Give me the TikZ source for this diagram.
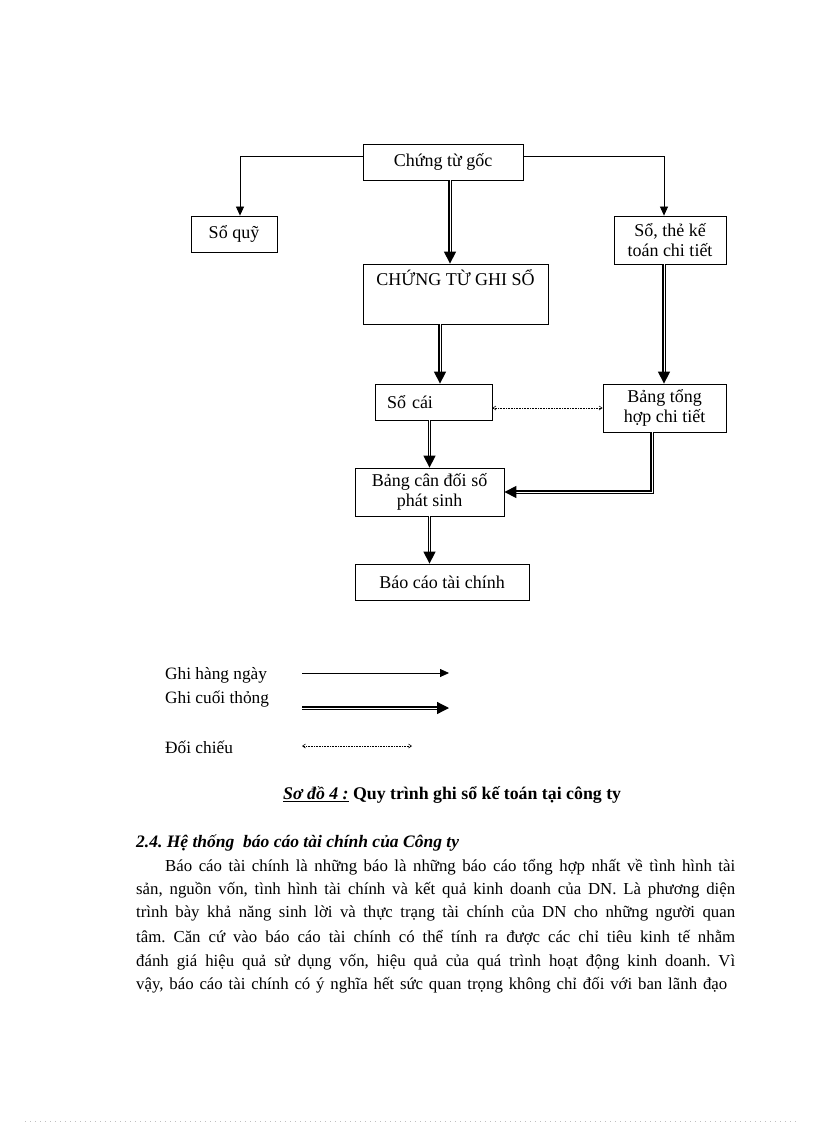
\documentclass[tikz,border=0pt]{standalone}
\usepackage{fontspec}
\setmainfont{Liberation Serif}
\usetikzlibrary{arrows.meta}
\begin{document}
\frenchspacing
\begin{tikzpicture}[x=1pt,y=-1pt,
  box/.style={draw, line width=0.8pt, inner sep=0pt, font=\fontsize{18}{20}\selectfont, align=center},
  thinarr/.style={line width=0.8pt, -{Triangle[length=9pt,width=8pt]}},
  dbl/.style={double, double distance=1pt, line width=1.3pt, -{Triangle[length=12pt,width=12pt]}},
  dotarr/.style={line width=0.6pt, densely dotted, {Straight Barb[length=3pt,width=4pt]}-{Straight Barb[length=3pt,width=4pt]}},
  lbl/.style={anchor=west, inner sep=0pt, font=\fontsize{17.3}{20}\selectfont},
  para/.style={anchor=base west, inner sep=0pt, font=\fontsize{16.8}{20}\selectfont}
]
\fill[white] (0,0) rectangle (816,1123);
\useasboundingbox (0,0) rectangle (816,1123);

% boxes
\node[box, minimum width=160pt, minimum height=36pt] (goc) at (443,162) {Chứng từ gốc};
\node[box, minimum width=86pt, minimum height=36pt] (quy) at (234,234) {Sổ quỹ};
\node[box, minimum width=185pt, inner ysep=6pt, text height=15pt, text depth=33pt] (ctgs) at (455.5,294) {CHỨNG TỪ GHI SỔ};
\node[box, minimum width=112pt, minimum height=48pt] (sothe) at (670,240) {Sổ, thẻ kế\\toán chi tiết};
\node[box, minimum width=117pt, minimum height=36pt, text width=93pt, align=left, inner xsep=12pt] (socai) at (433.5,402) {Sổ cái};
\node[box, minimum width=123pt, minimum height=48pt] (bth) at (664.5,408) {Bảng tổng\\hợp chi tiết};
\node[box, minimum width=149pt, minimum height=48pt] (bcd) at (429.5,492) {Bảng cân đối số\\phát sinh};
\node[box, minimum width=174pt, minimum height=36pt] (bctc) at (442,582) {Báo cáo tài chính};

% connectors
\draw[thinarr] ([yshift=6pt]goc.west) -| ([xshift=6pt]quy.north);
\draw[thinarr] ([yshift=6pt]goc.east) -| ([xshift=-6pt]sothe.north);
\draw[dbl] ([xshift=7pt]goc.south) -- ([xshift=7pt]goc.south |- ctgs.north);
\draw[dbl] ([xshift=6.5pt]socai.north |- ctgs.south) -- ([xshift=6.5pt]socai.north);
\draw[dbl] ([xshift=-6pt]sothe.south) -- ([xshift=-6pt]sothe.south |- bth.north);
\draw[dotarr] (socai.east |- bth.west) -- (bth.west);
\draw[dbl] ([xshift=-12.5pt]bth.south) |- (bcd.east);
\draw[dbl] (socai.south -| bcd.north) -- (bcd.north);
\draw[dbl] (bcd.south) -- (bcd.south |- bctc.north);

% legend
\node[lbl] (l1) at (165,675) {Ghi hàng ngày};
\node[lbl] (l2) at (165,699) {Ghi cuối thỏng};
\node[lbl] (l3) at (165,747) {Đối chiếu};
\coordinate (a1) at (302,673); \coordinate (b1) at (449,673);
\coordinate (a2) at (302,708); \coordinate (b2) at (449,708);
\coordinate (a3) at (302,746); \coordinate (b3) at (412,746);
\draw[thinarr] (a1) -- (b1);
\draw[dbl] (a2) -- (b2);
\draw[dotarr] (a3) -- (b3);

% caption
\node[anchor=west, inner sep=0pt, font=\fontsize{17.8}{20}\selectfont] (cap) at (283,795) {\underline{\textbf{\textit{Sơ đồ 4 :}}} \textbf{Quy trình ghi sổ kế toán tại công ty}};

% text
\node[para, font=\fontsize{17.5}{20}\selectfont] (head) at (136,847) {\textbf{\textit{2.4. Hệ thống\ \ báo cáo tài chính của Công ty}}};
\node[para] (p1) at (165,871) {\makebox[570pt][s]{Báo cáo tài chính là những báo là những báo cáo tổng hợp nhất về tình hình tài}};
\node[para] (p2) at (136,894) {\makebox[599pt][s]{sản, nguồn vốn, tình hình tài chính và kết quả kinh doanh của DN. Là phương diện}};
\node[para] (p3) at (136,917) {\makebox[599pt][s]{trình bày khả năng sinh lời và thực trạng tài chính của DN cho những người quan}};
\node[para] (p4) at (136,942) {\makebox[599pt][s]{tâm. Căn cứ vào báo cáo tài chính có thể tính ra được các chỉ tiêu kinh tế nhằm}};
\node[para] (p5) at (136,966) {\makebox[599pt][s]{đánh giá hiệu quả sử dụng vốn, hiệu quả của quá trình hoạt động kinh doanh. Vì}};
\node[para] (p6) at (136,989) {\makebox[591pt][s]{vậy, báo cáo tài chính có ý nghĩa hết sức quan trọng không chỉ đối với ban lãnh đạo}};

% faint footer line
\coordinate (f1) at (25,1121); \coordinate (f2) at (797,1121);
\draw[black!25, line width=0.5pt, dash pattern=on 0.6pt off 4.4pt] (f1) -- (f2);
\end{tikzpicture}
\end{document}
